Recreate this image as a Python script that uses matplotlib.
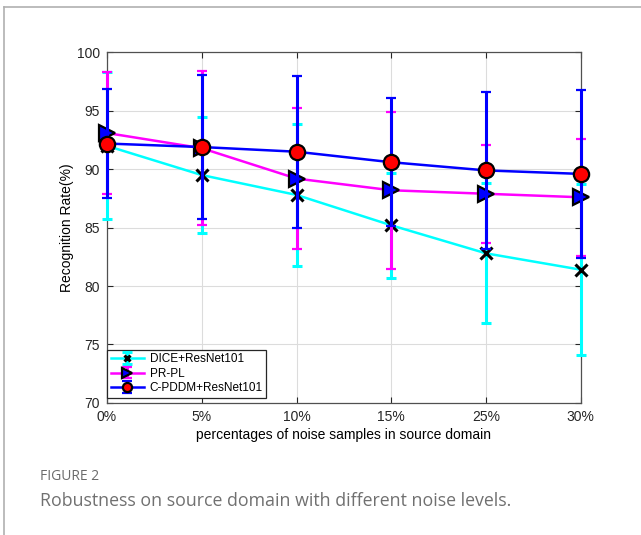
import numpy as np
import matplotlib
matplotlib.use('Agg')
import matplotlib.pyplot as plt
from matplotlib.lines import Line2D

# --- datos ---
niveles = ['0%', '5%', '10%', '15%', '25%', '30%']

dice_media = [92.0, 89.5, 87.8, 85.2, 82.8, 81.4]
dice_err = [6.3, 5.0, 6.1, 4.5, 6.0, 7.3]

prpl_media = [93.1, 91.8, 89.2, 88.2, 87.9, 87.6]
prpl_err = [5.2, 6.6, 6.0, 6.7, 4.2, 5.0]

cpddm_media = [92.2, 91.9, 91.5, 90.6, 89.9, 89.6]
cpddm_err = [4.7, 6.2, 6.5, 5.5, 6.7, 7.2]

etiquetas = ['DICE+ResNet101', 'PR-PL', 'C-PDDM+ResNet101']

plt.rcParams['font.family'] = ['Liberation Sans', 'DejaVu Sans']

fig = plt.figure(figsize=(6.41, 5.35), dpi=100)
ax = fig.add_axes([0.167, 0.247, 0.739, 0.655])

x = np.arange(len(niveles))

series = [
    (dice_media, dice_err, dict(color='cyan', marker='x', ms=8, mec='black', mew=2.2)),
    (prpl_media, prpl_err, dict(color='magenta', marker='>', ms=11, mfc='blue',
                                mec='black', mew=1.6)),
    (cpddm_media, cpddm_err, dict(color='blue', marker='o', ms=11, mfc='red',
                                  mec='black', mew=1.6)),
]
for i, (media, err, estilo) in enumerate(series):
    cont = ax.errorbar(x, media, yerr=err, lw=1.8, elinewidth=2.2, capsize=3.5,
                       capthick=2.2, label=etiquetas[i], zorder=3 + i, **estilo)
    for art in cont.get_children():
        art.set_clip_on(False)

ax.set_xlim(0, len(niveles) - 1)
ax.set_ylim(70, 100)
ax.set_xticks(x)
ax.set_xticklabels(niveles)
ax.set_yticks(np.arange(70, 101, 5))

ax.grid(True, color='#dcdcdc', lw=0.8)
ax.set_axisbelow(True)
for s in ax.spines.values():
    s.set_color('#505050')
    s.set_linewidth(0.9)
ax.tick_params(direction='in', top=True, right=True, length=4, width=0.8,
               labelsize=10, colors='#262626', pad=5)

ax.set_xlabel('percentages of noise samples in source domain', fontsize=10, labelpad=3)
ax.set_ylabel('Recognition Rate(%)', fontsize=10, labelpad=2)

leg = ax.legend(loc='lower left', bbox_to_anchor=(0.0, 0.015), fontsize=8.5,
                markerscale=0.6, handlelength=2.8, borderaxespad=0.0, borderpad=0.3,
                labelspacing=0.2, fancybox=False, framealpha=1, edgecolor='#262626',
                handletextpad=0.5)
leg.get_frame().set_linewidth(0.9)
leg.set_zorder(10)

# marco de la pagina y pie de figura
fig.add_artist(Line2D([4 / 641, 1], [1 - 7 / 535, 1 - 7 / 535], color='#b0b0b0', lw=1.2))
fig.add_artist(Line2D([4 / 641, 4 / 641], [0, 1 - 7 / 535], color='#b0b0b0', lw=1.2))

fig.text(40 / 641, 1 - 476 / 535, 'FIGURE 2', fontsize=10, color='#6b6b6b',
         family=['Open Sans', 'DejaVu Sans'], va='center')
fig.text(40 / 641, 1 - 501 / 535, 'Robustness on source domain with different noise levels.',
         fontsize=12.8, color='#707070', family=['Open Sans', 'DejaVu Sans'], va='center')

fig.savefig('out.png', dpi=100)
